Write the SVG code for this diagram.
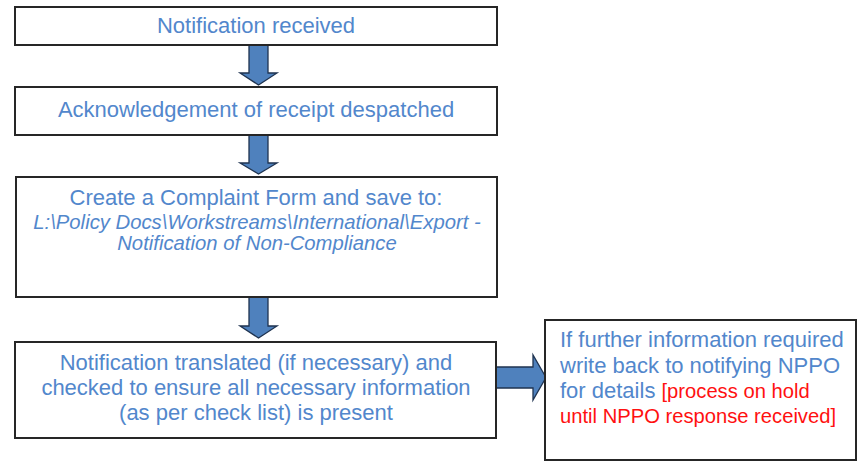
<svg xmlns="http://www.w3.org/2000/svg" width="858" height="461" viewBox="0 0 858 461">
<style>
.box{fill:#ffffff;stroke:#262626;stroke-width:2}
.arrow{fill:#4F81BD;stroke:#1F3350;stroke-width:1.3;stroke-linejoin:miter}
.t{font-family:"Liberation Sans",Arial,sans-serif;font-size:22px;fill:#5287CC}
.c{text-anchor:middle}
.i{font-style:italic;font-size:20.3px}
.red{fill:#FF1010;font-size:20.2px}
</style>
<rect width="858" height="461" fill="#ffffff"/>
<g id="connectors">
<path class="arrow" d="M249,45 H268 V73 H277 L258.5,85 L240,73 H249 Z"/>
<path class="arrow" d="M249,135 H268 V163 H277 L258.5,174 L240,163 H249 Z"/>
<path class="arrow" d="M249,297 H268 V326 H277 L258.5,338 L240,326 H249 Z"/>
<path class="arrow" d="M496,367 H533 V355 L546,377.5 L533,400 V388 H496 Z"/>
</g>
<g id="node-received">
<rect class="box" x="15" y="7" width="482" height="38"/>
<text class="t c" x="256" y="33">Notification received</text>
</g>
<g id="node-ack">
<rect class="box" x="15" y="87" width="482" height="48"/>
<text class="t c" x="256" y="117">Acknowledgement of receipt despatched</text>
</g>
<g id="node-complaint">
<rect class="box" x="16" y="177" width="481" height="120"/>
<text class="t c" x="256" y="205">Create a Complaint Form and save to:</text>
<text class="t c i" x="257" y="229">L:\Policy Docs\Workstreams\International\Export -</text>
<text class="t c i" x="257" y="250">Notification of Non-Compliance</text>
</g>
<g id="node-translated">
<rect class="box" x="15" y="342" width="481" height="96"/>
<text class="t c" x="256" y="370">Notification translated (if necessary) and</text>
<text class="t c" x="256" y="395">checked to ensure all necessary information</text>
<text class="t c" x="256" y="420">(as per check list) is present</text>
</g>
<g id="node-further">
<rect class="box" x="545" y="320" width="311" height="140"/>
<text class="t" x="560" y="347">If further information required</text>
<text class="t" x="560" y="373">write back to notifying NPPO</text>
<text class="t" x="560" y="398">for details <tspan class="red">[process on hold</tspan></text>
<text class="t red" x="560" y="423">until NPPO response received]</text>
</g>
</svg>
